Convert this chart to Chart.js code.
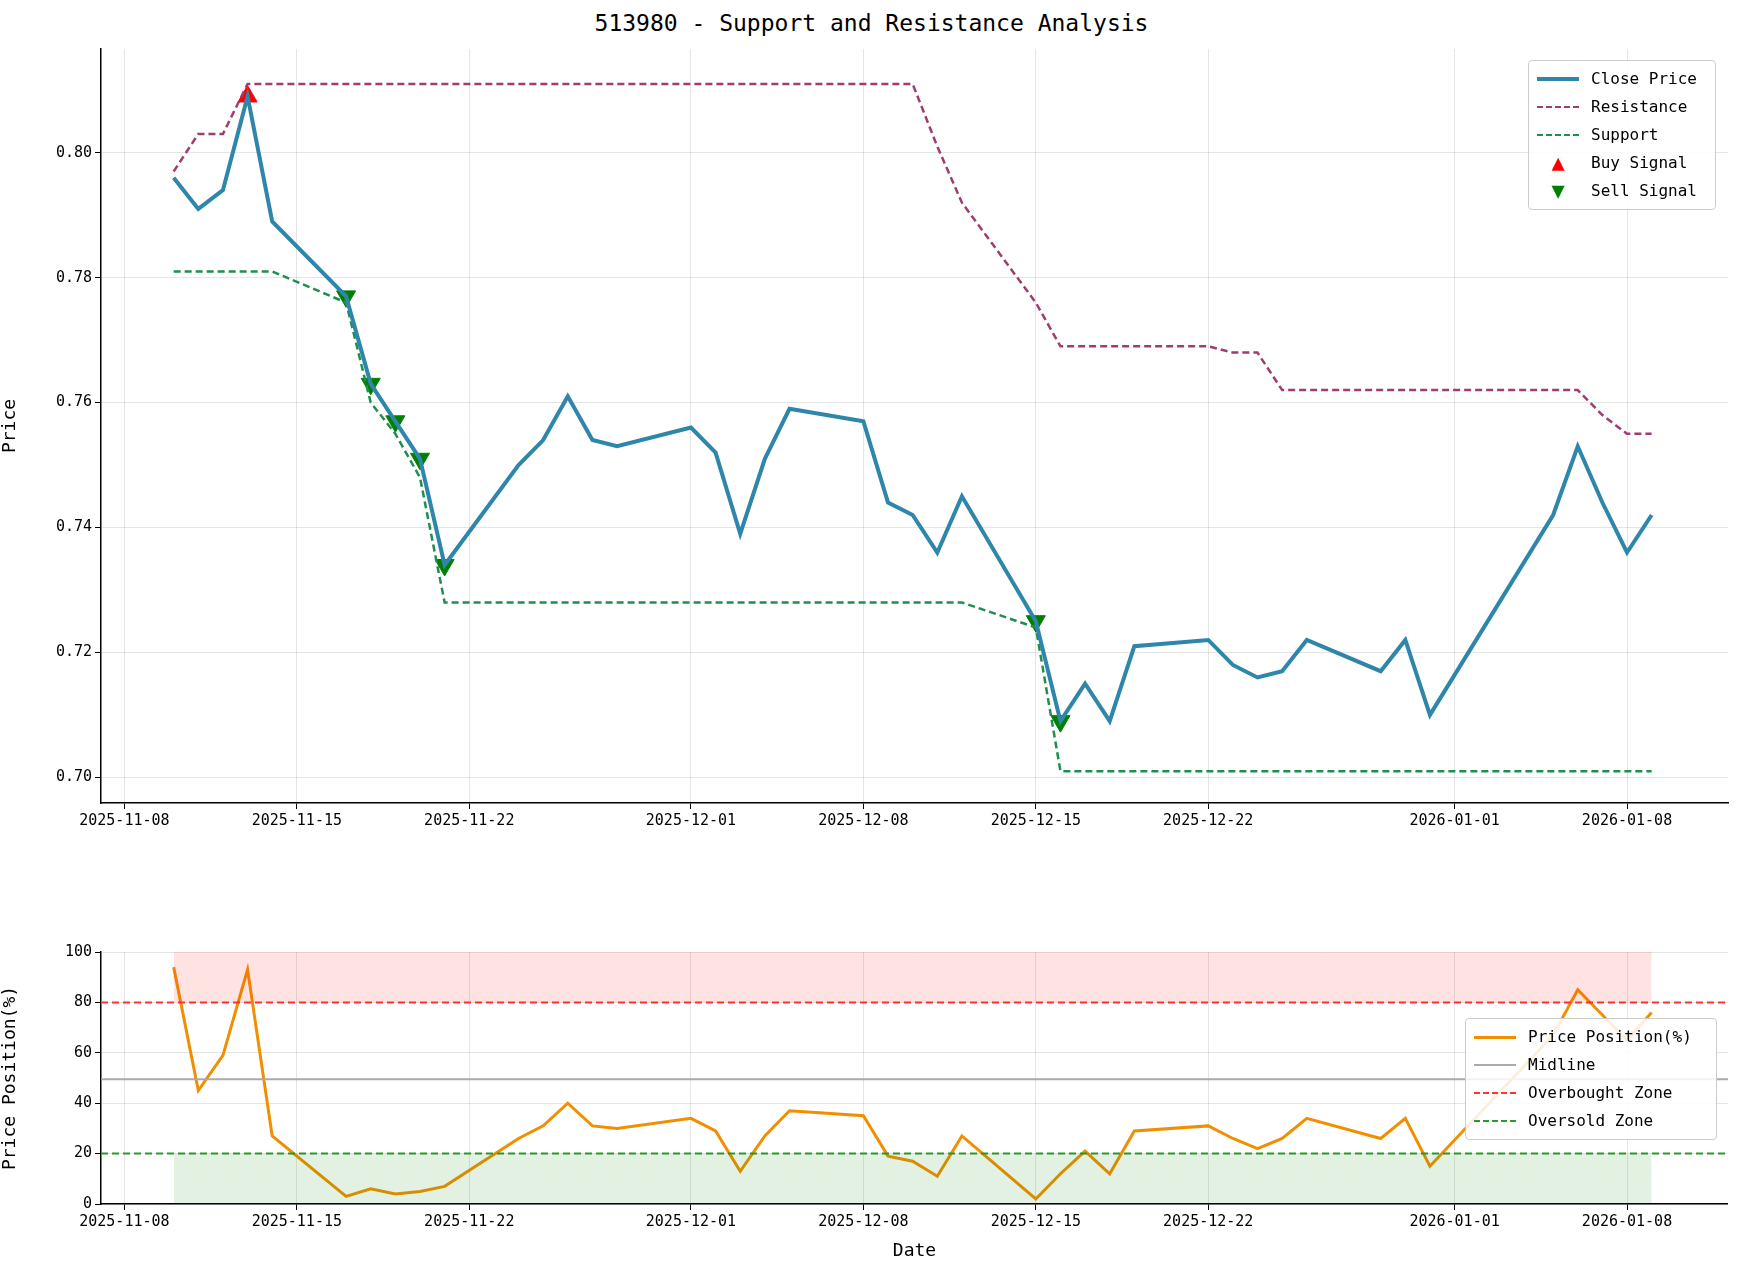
<!DOCTYPE html>
<html><head><meta charset="utf-8">
<script src="https://cdn.jsdelivr.net/npm/chart.js@4"></script>
<style>
body{margin:0;width:1743px;height:1281px;background:#fff;font-family:"DejaVu Sans Mono",monospace;position:relative;overflow:hidden}
.box{position:absolute}
#title{position:absolute;top:10px;left:0;width:1743px;text-align:center;font-size:23px;color:#000}
.leg{position:absolute;background:rgba(255,255,255,0.85);border:1px solid #ccc;border-radius:4px;padding:4px 8px;font-size:16px;line-height:28px}
.leg div{display:flex;align-items:center}
.sw{width:42px;height:0;margin-right:12px}
.mk{width:42px;text-align:center;margin-right:12px;font-size:22px;line-height:20px}
</style></head><body>
<div id="title">513980 - Support and Resistance Analysis</div>
<div class="box" style="left:0;top:37px;width:1740px;height:816px"><canvas id="c1"></canvas></div>
<div class="box" style="left:0;top:940px;width:1728px;height:322px"><canvas id="c2"></canvas></div>
<div class="leg" style="left:1528px;top:60px;width:170px">
<div><span class="sw" style="border-top:4px solid #2E86AB"></span>Close Price</div>
<div><span class="sw" style="border-top:2px dashed #A23B72"></span>Resistance</div>
<div><span class="sw" style="border-top:2px dashed #1E8F4E"></span>Support</div>
<div><span class="mk" style="color:#f00">▲</span>Buy Signal</div>
<div><span class="mk" style="color:#008000">▼</span>Sell Signal</div>
</div>
<div class="leg" style="left:1465px;top:1018px;width:234px">
<div><span class="sw" style="border-top:3px solid #F18F01"></span>Price Position(%)</div>
<div><span class="sw" style="border-top:2px solid #aaa"></span>Midline</div>
<div><span class="sw" style="border-top:2px dashed #f33"></span>Overbought Zone</div>
<div><span class="sw" style="border-top:2px dashed #2a9a2a"></span>Oversold Zone</div>
</div>
<script>
// days since 2025-11-08
const dates=["11-10","11-11","11-12","11-13","11-14","11-17","11-18","11-19","11-20","11-21","11-24","11-25","11-26","11-27","11-28","12-01","12-02","12-03","12-04","12-05","12-08","12-09","12-10","12-11","12-12","12-15","12-16","12-17","12-18","12-19","12-22","12-23","12-24","12-25","12-26","12-29","12-30","12-31","01-05","01-06","01-07","01-08","01-09"];
const closePrice=[0.796,0.791,0.794,0.809,0.789,0.777,0.763,0.757,0.751,0.734,0.750,0.754,0.761,0.754,0.753,0.756,0.752,0.739,0.751,0.759,0.757,0.744,0.742,0.736,0.745,0.725,0.709,0.715,0.709,0.721,0.722,0.718,0.716,0.717,0.722,0.717,0.722,0.710,0.742,0.753,0.744,0.736,0.742];
const resistance=[0.797,0.803,0.803,0.811,0.811,0.811,0.811,0.811,0.811,0.811,0.811,0.811,0.811,0.811,0.811,0.811,0.811,0.811,0.811,0.811,0.811,0.811,0.811,0.801,0.792,0.776,0.769,0.769,0.769,0.769,0.769,0.768,0.768,0.762,0.762,0.762,0.762,0.762,0.762,0.762,0.758,0.755,0.755];
const support=[0.781,0.781,0.781,0.781,0.781,0.776,0.760,0.755,0.748,0.728,0.728,0.728,0.728,0.728,0.728,0.728,0.728,0.728,0.728,0.728,0.728,0.728,0.728,0.728,0.728,0.724,0.701,0.701,0.701,0.701,0.701,0.701,0.701,0.701,0.701,0.701,0.701,0.701,0.701,0.701,0.701,0.701,0.701];
const pricePos=[94,45,59,93,27,3,6,4,5,7,26,31,40,31,30,34,29,13,27,37,35,19,17,11,27,2,12,21,12,29,31,26,22,26,34,26,34,15,67,85,75,65,76];
const buyDates=["11-13"], buyVals=[0.809];
const sellDates=["11-17","11-18","11-19","11-20","11-21","12-15","12-16"], sellVals=[0.777,0.763,0.757,0.751,0.734,0.725,0.709];
const tickDays=[0,7,14,23,30,37,44,54,61];
const tickLabels=["2025-11-08","2025-11-15","2025-11-22","2025-12-01","2025-12-08","2025-12-15","2025-12-22","2026-01-01","2026-01-08"];
const priceTicks=[0.70,0.72,0.74,0.76,0.78,0.80];
const posTicks=[0,20,40,60,80,100];

function dayOf(s){const m=+s.slice(0,2),d=+s.slice(3);return m===11?d-8:m===12?22+d:53+d;}
const xs=dates.map(dayOf);
const pts=a=>a.map((v,i)=>({x:xs[i],y:v}));
const font={family:'"DejaVu Sans Mono",monospace',size:15};
Chart.defaults.color='#000';
const grid={color:'rgba(0,0,0,0.1)',drawTicks:true,tickColor:'#000',tickLength:6};
function xScale(showTitle){return{type:'linear',min:-0.95,max:65.1,
  afterBuildTicks:s=>{s.ticks=tickDays.map(v=>({value:v}));},
  ticks:{font,autoSkip:false,maxRotation:0,callback:(v)=>tickLabels[tickDays.indexOf(v)]},
  grid,border:{color:'#000',width:1.5},
  title:{display:showTitle,text:'Date',font:{...font,size:18},padding:0},
  afterFit:s=>{s.height=showTitle?58:50;}};}
function yScale(min,max,tks,title,fmt){return{min,max,
  afterBuildTicks:s=>{s.ticks=tks.map(v=>({value:v}));},
  ticks:{font,callback:fmt},grid,border:{color:'#000',width:1.5},
  title:{display:true,text:title,font:{...font,size:18},padding:0},
  afterFit:s=>{s.width=101;}};}
const base={responsive:true,maintainAspectRatio:false,animation:false,layout:{padding:{top:0,right:0}},
  plugins:{legend:{display:false},tooltip:{enabled:false}}};

new Chart(document.getElementById('c1'),{type:'line',data:{datasets:[
 {data:pts(closePrice),borderColor:'#2E86AB',borderWidth:4,pointRadius:0,tension:0},
 {data:pts(resistance),borderColor:'#A23B72',borderWidth:2.5,borderDash:[7,4],pointRadius:0},
 {data:pts(support),borderColor:'#1E8F4E',borderWidth:2.5,borderDash:[7,4],pointRadius:0},
 {data:buyDates.map((d,i)=>({x:dayOf(d),y:buyVals[i]})),showLine:false,pointStyle:'triangle',pointRadius:11,backgroundColor:'#f00',borderColor:'#f00'},
 {data:sellDates.map((d,i)=>({x:dayOf(d),y:sellVals[i]})),showLine:false,pointStyle:'triangle',rotation:180,pointRadius:11,backgroundColor:'#008000',borderColor:'#008000'}
]},options:{...base,scales:{x:xScale(false),y:yScale(0.6959,0.8166,priceTicks,'Price',v=>v.toFixed(2))}}});

const x0=xs[0],x1=xs[xs.length-1];
new Chart(document.getElementById('c2'),{type:'line',data:{datasets:[
 {data:[{x:x0,y:100},{x:x1,y:100}],borderWidth:0,pointRadius:0,fill:{value:80},backgroundColor:'rgba(255,0,0,0.11)'},
 {data:[{x:x0,y:20},{x:x1,y:20}],borderWidth:0,pointRadius:0,fill:{value:0},backgroundColor:'rgba(0,128,0,0.11)'},
 {data:[{x:-0.95,y:49.5},{x:65.1,y:49.5}],borderColor:'#aaa',borderWidth:2,pointRadius:0},
 {data:[{x:-0.95,y:80},{x:65.1,y:80}],borderColor:'#f33',borderWidth:2,borderDash:[7,4],pointRadius:0},
 {data:[{x:-0.95,y:20},{x:65.1,y:20}],borderColor:'#2a9a2a',borderWidth:2,borderDash:[7,4],pointRadius:0},
 {data:pts(pricePos),borderColor:'#F18F01',borderWidth:3,pointRadius:0}
]},options:{...base,scales:{x:xScale(true),y:yScale(0,100,posTicks,'Price Position(%)',v=>v)}}});
</script></body></html>
